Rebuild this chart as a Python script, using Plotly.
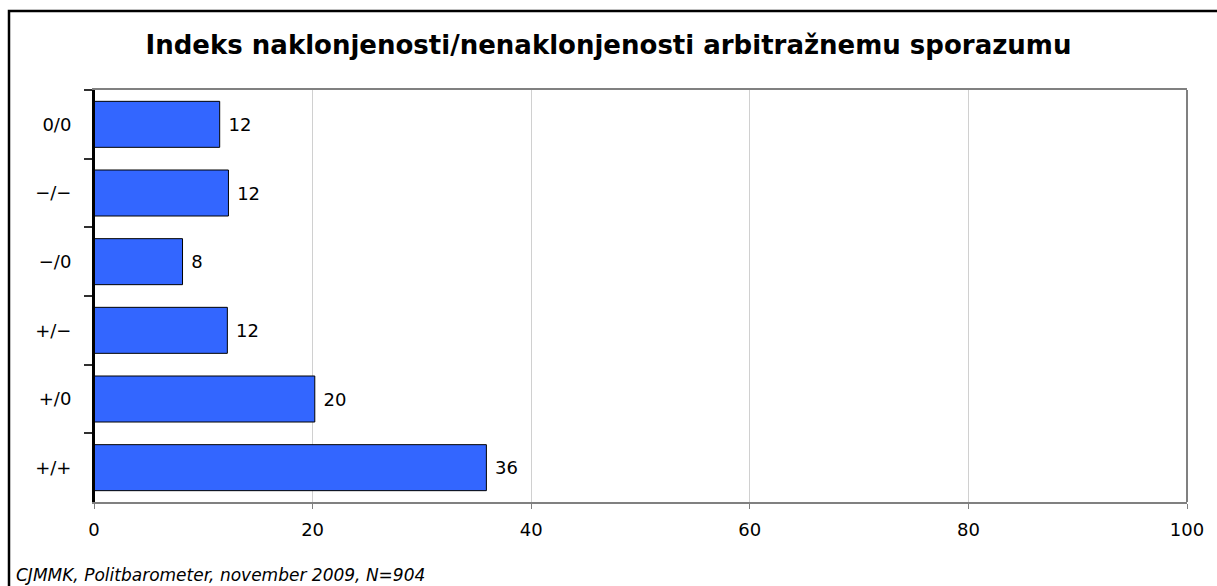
import plotly.graph_objects as go

categories = ["0/0", "\u2212/\u2212", "\u2212/0", "+/\u2212", "+/0", "+/+"]
values = [11.5, 12.3, 8.1, 12.2, 20.2, 35.9]
labels = ["12", "12", "8", "12", "20", "36"]
x_ticks = [0, 20, 40, 60, 80, 100]

W, H = 1217, 586
L, R, T, B = 94, 30, 90, 84
pw, ph = W - L - R, H - T - B
FONT = "DejaVu Sans, Arial"

def px_x(p):
    return (p - L) / pw

def px_y(p):
    return 1 - (p - T) / ph

fig = go.Figure(go.Bar(
    x=values, y=categories, orientation="h",
    marker=dict(color="#3366FF", line=dict(color="black", width=1)),
    text=["\u00a0" + s for s in labels], textposition="outside", cliponaxis=False,
    textfont=dict(family=FONT, size=18, color="black"),
    hoverinfo="skip",
))

fig.update_layout(
    width=W, height=H,
    margin=dict(l=L, r=R, t=T, b=B),
    paper_bgcolor="white", plot_bgcolor="white",
    bargap=0.33,
    showlegend=False,
    title=dict(text="<b>Indeks naklonjenosti/nenaklonjenosti arbitražnemu sporazumu</b>",
               x=0.5, xanchor="center", y=1 - 45 / H, yanchor="middle",
               font=dict(family=FONT, size=26, color="black")),
    font=dict(family=FONT, size=18, color="black"),
)

fig.update_xaxes(
    range=[0, 100], tickvals=x_ticks, showgrid=True, gridcolor="#d0d0d0", gridwidth=1,
    showline=True, linecolor="#808080", linewidth=2, mirror=True,
    ticks="outside", ticklen=5, tickcolor="#808080", zeroline=False,
    tickfont=dict(family=FONT, size=18, color="black"), ticklabelstandoff=5,
)
fig.update_yaxes(
    autorange="reversed", showline=True, linecolor="black", linewidth=2,
    ticks="outside", ticklen=8, tickcolor="#303030", tickwidth=1.5, tickson="boundaries",
    tickfont=dict(family=FONT, size=18, color="black"), ticklabelstandoff=17,
)

fig.add_shape(type="line", xref="paper", yref="paper", x0=0, x1=0, y0=0, y1=1,
              line=dict(color="black", width=2))
fig.add_shape(type="line", xref="paper", yref="paper", x0=1, x1=1, y0=0, y1=1,
              line=dict(color="#808080", width=2))

# outer chart border (only top & left visible)
fig.add_shape(type="rect", xref="paper", yref="paper",
              x0=px_x(9), x1=px_x(1240), y0=px_y(620), y1=px_y(11),
              line=dict(color="black", width=2.5), fillcolor="rgba(0,0,0,0)", layer="above")

fig.add_annotation(text="<i>CJMMK, Politbarometer, november 2009, N=904</i>",
                   xref="paper", yref="paper", x=px_x(14), y=px_y(575),
                   xanchor="left", yanchor="middle", showarrow=False,
                   font=dict(family=FONT, size=17, color="black"))

fig.write_html("out.html", config={"displayModeBar": False},
               post_script="document.body.style.margin='0';")
